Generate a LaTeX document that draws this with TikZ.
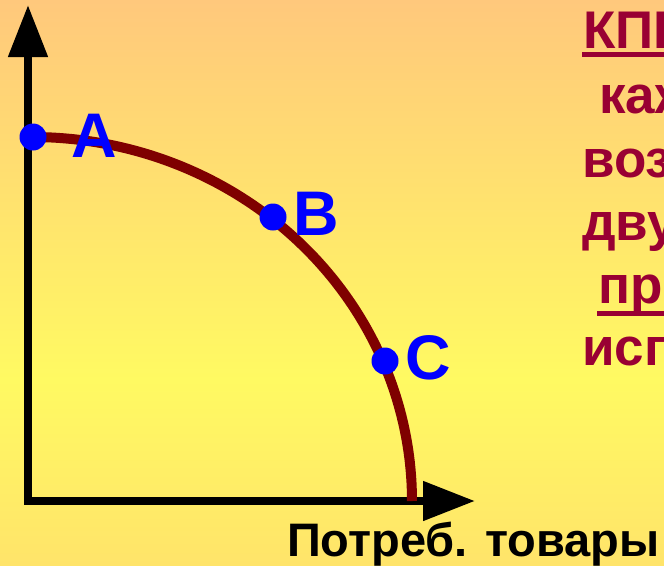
\documentclass[tikz,border=0pt]{standalone}
\usepackage{fontspec}
\setmainfont{Liberation Sans}
\usetikzlibrary{arrows.meta}
\definecolor{bgtop}{HTML}{FFC87C}
\definecolor{bgmid}{HTML}{FFFA62}
\definecolor{bgbot}{HTML}{FFE46A}
\definecolor{curvecol}{HTML}{7F0000}
\definecolor{txtcol}{HTML}{990033}
\tikzset{
  axisline/.style={line width=8pt, black, line join=miter},
  ppf/.style={line width=10pt, curvecol},
  dot/.style={circle, fill=blue, inner sep=0pt, minimum size=27pt},
  ptlabel/.style={anchor=base, inner sep=0pt, text=blue, font=\fontsize{63}{63}\selectfont\bfseries},
  sidetext/.style={anchor=base west, inner sep=0pt, text=txtcol, font=\fontsize{53}{53}\selectfont\bfseries},
  uline/.style={line width=5pt, txtcol},
}
\begin{document}
\begin{tikzpicture}[x=1pt,y=-1pt]
\clip (0,0) rectangle (664,565);
\shade[top color=bgtop, bottom color=bgmid] (0,0) rectangle (664,380);
\shade[top color=bgmid, bottom color=bgbot] (0,379) rectangle (664,565);
% axes
\coordinate (O) at (28,501);
\coordinate (Ytip) at (28,5);
\coordinate (Xtip) at (475,501);
\draw[axisline, {Triangle[length=52pt,width=38pt]}-{Triangle[length=52pt,width=38pt]}] (Ytip) -- (O) -- (Xtip);
% curve
\draw[ppf] plot[domain=0:90, samples=60, smooth] ({32+380*sin(\x)}, {501-364*cos(\x)});
% points
\node[dot] (A) at (33,137) {};
\node[dot] (B) at (273,217) {};
\node[dot] (C) at (385,361) {};
\node[ptlabel] (lA) at (94,157) {A};
\node[ptlabel] (lB) at (316,235) {B};
\node[ptlabel] (lC) at (428,379) {C};
% x axis label
\node[anchor=base west, inner sep=0pt, font=\fontsize{47}{47}\selectfont\bfseries] (xl) at (287,556) {Потреб. товары};
% side text
\node[sidetext] (t1) at (583,48) {КПВ};
\node[sidetext] (t2) at (599,113) {каждая};
\node[sidetext] (t3) at (582,177) {возможных};
\node[sidetext] (t4) at (582,240) {двух};
\node[sidetext] (t5) at (598,303) {при};
\node[sidetext] (t6) at (582,365) {использовании};
\draw[uline] (t1.base west) ++(-1,6.5) -- ++(120,0);
\draw[uline] (t5.base west) ++(-1,10) -- ++(120,0);
\end{tikzpicture}
\end{document}
